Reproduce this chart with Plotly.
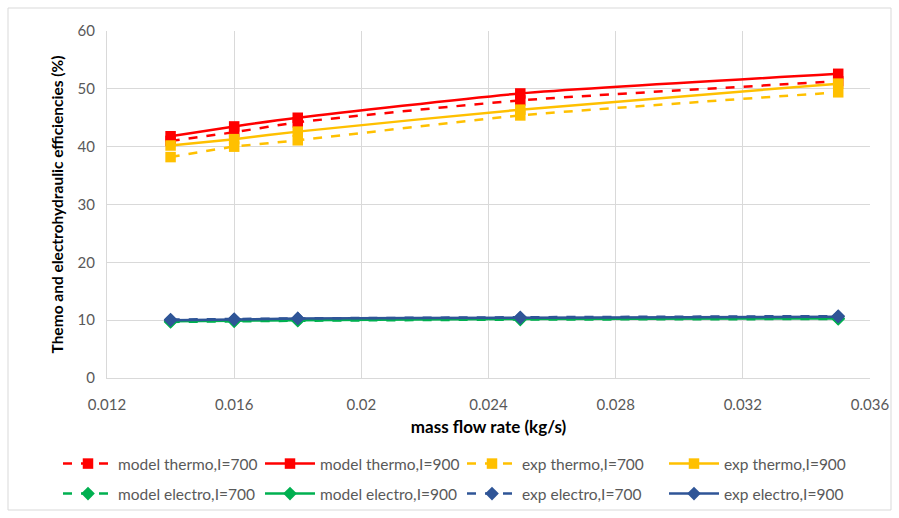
import plotly.graph_objects as go

mass_flow = [0.014, 0.016, 0.018, 0.025, 0.035]

model_thermo_700 = [41.0, 42.5, 44.2, 48.0, 51.3]
model_thermo_900 = [41.8, 43.5, 45.0, 49.2, 52.6]
exp_thermo_700 = [38.2, 40.0, 41.1, 45.4, 49.4]
exp_thermo_900 = [40.2, 41.3, 42.6, 46.4, 50.9]

model_electro_700 = [9.7, 9.8, 9.9, 10.1, 10.2]
model_electro_900 = [9.8, 9.9, 10.0, 10.2, 10.3]
exp_electro_700 = [10.1, 10.2, 10.3, 10.5, 10.7]
exp_electro_900 = [10.0, 10.1, 10.3, 10.4, 10.6]

x_ticks = [0.012, 0.016, 0.020, 0.024, 0.028, 0.032, 0.036]
x_ticktext = ["0.012", "0.016", "0.02", "0.024", "0.028", "0.032", "0.036"]
y_ticks = [0, 10, 20, 30, 40, 50, 60]

RED = "#FF0000"
YELLOW = "#FFC000"
GREEN = "#00B050"
BLUE = "#2F5597"

series = [
    ("model thermo,I=700", model_thermo_700, RED, "dash", "square", "legend"),
    ("model thermo,I=900", model_thermo_900, RED, "solid", "square", "legend"),
    ("exp thermo,I=700", exp_thermo_700, YELLOW, "dash", "square", "legend"),
    ("exp thermo,I=900", exp_thermo_900, YELLOW, "solid", "square", "legend"),
    ("model electro,I=700", model_electro_700, GREEN, "dash", "diamond", "legend2"),
    ("model electro,I=900", model_electro_900, GREEN, "solid", "diamond", "legend2"),
    ("exp electro,I=700", exp_electro_700, BLUE, "dash", "diamond", "legend2"),
    ("exp electro,I=900", exp_electro_900, BLUE, "solid", "diamond", "legend2"),
]

fig = go.Figure()
for name, vals, color, dash, sym, leg in series:
    fig.add_trace(go.Scatter(
        x=mass_flow, y=vals, name=name, mode="lines+markers", legend=leg,
        line=dict(color=color, width=2.5, dash=dash, shape="spline", smoothing=0.6),
        marker=dict(symbol=sym, size=10.5, color=color),
    ))

W, H = 899, 518
L, R, T, B = 107, 29, 31, 140
pw, ph = W - L - R, H - T - B

def px_x(p):
    return (p - L) / pw

def px_y(p):
    return (H - B - p) / ph

fig.add_shape(type="rect", xref="paper", yref="paper",
              x0=px_x(8), x1=px_x(891), y0=px_y(510), y1=px_y(8),
              line=dict(color="#D9D9D9", width=1), fillcolor="rgba(0,0,0,0)", layer="below")

leg_common = dict(
    orientation="h", xanchor="left", yanchor="middle",
    entrywidth=137, entrywidthmode="pixels", traceorder="normal",
    font=dict(size=15.5, color="#595959"), itemwidth=50,
    bgcolor="rgba(0,0,0,0)",
)

fig.update_layout(
    width=W, height=H,
    margin=dict(l=L, r=R, t=T, b=B, autoexpand=False),
    paper_bgcolor="white", plot_bgcolor="white",
    font=dict(family="Lato, 'Open Sans', sans-serif", color="#595959", size=15),
    showlegend=True,
    legend=dict(x=px_x(58), y=px_y(464), **leg_common),
    legend2=dict(x=px_x(58), y=px_y(494), **leg_common),
    xaxis=dict(
        range=[0.012, 0.036], tickvals=x_ticks, ticktext=x_ticktext,
        showgrid=True, gridcolor="#D9D9D9", gridwidth=1, automargin=False,
        zeroline=False, showline=True, linecolor="#D9D9D9", ticks="",
        tickfont=dict(size=15, color="#595959"), ticklabelstandoff=13,
        title=dict(text="<b>mass flow rate (kg/s)</b>", font=dict(size=17, color="#000000"), standoff=9),
    ),
    yaxis=dict(
        range=[0, 60], tickvals=y_ticks,
        showgrid=True, gridcolor="#D9D9D9", gridwidth=1, automargin=False,
        zeroline=False, showline=True, linecolor="#D9D9D9", ticks="",
        tickfont=dict(size=15, color="#595959"), ticklabelstandoff=8,
        title=dict(text="<b>Themo and electrohydraulic efficiencies (%)</b>", font=dict(size=15.5, color="#000000"), standoff=10),
    ),
)

fig.write_html("out.html")
